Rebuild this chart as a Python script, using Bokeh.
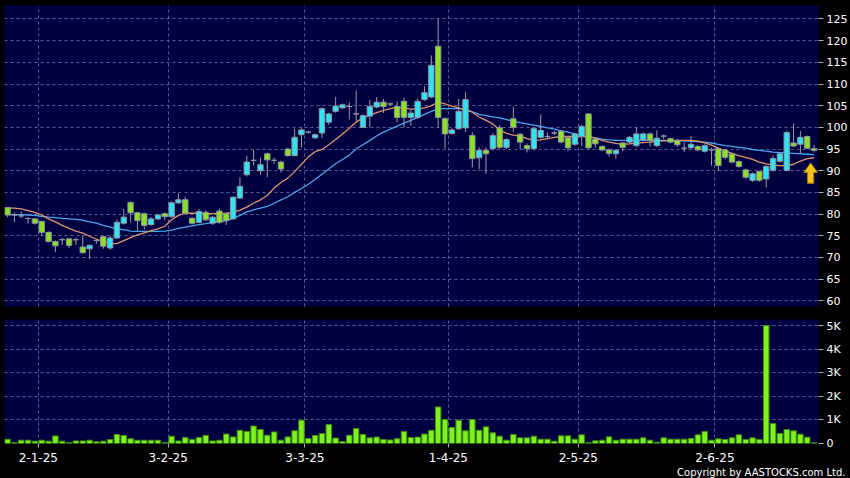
from bokeh.plotting import figure
from bokeh.layouts import column
from bokeh.models import ColumnDataSource, FixedTicker, Range1d, Title
from bokeh.embed import file_html
from bokeh.resources import INLINE

# trading-day index (0 = 2 Jan 2025)
day_index = list(range(-4, 115))

opens = [81.5, 79.8, 79.6, 79.0, 78.9, 78.3, 75.8, 73.7, 74.1, 74.3, 74.1, 72.4, 72.0, 73.9, 74.8, 72.2, 74.5, 77.9,
         82.7, 80.3, 80.1, 77.6, 78.9, 80.1, 79.4, 82.6, 83.3, 79.0, 78.1, 80.4, 77.9, 80.7, 80.1, 78.9, 83.7, 89.1,
         92.4, 90.0, 93.9, 92.4, 92.0, 95.0, 93.5, 98.3, 98.9, 97.6, 98.7, 101.2, 103.7, 104.5, 104.8, 103.1, 100.0,
         102.6, 104.7, 105.8, 105.4, 104.8, 106.0, 102.3, 102.3, 106.4, 107.0, 118.7, 102.0, 98.6, 99.7, 99.9, 98.1,
         93.0, 94.7, 95.1, 99.9, 95.4, 102.0, 98.4, 95.8, 95.1, 97.7, 97.9, 98.7, 99.1, 97.6, 96.1, 97.9, 103.1, 97.3,
         95.6, 94.8, 93.9, 96.4, 96.6, 95.8, 97.1, 98.5, 95.8, 98.0, 97.4, 97.0, 95.2, 95.3, 95.6, 94.5, 94.8, 95.1,
         94.8, 93.9, 92.1, 90.2, 87.8, 89.8, 88.1, 90.1, 92.2, 90.1, 96.4, 96.1, 97.9, 95.1]
highs = [81.6, 80.4, 80.6, 79.2, 79.1, 78.5, 76.0, 73.9, 74.5, 74.5, 74.5, 75.0, 73.0, 74.3, 75.0, 75.0, 78.8, 81.2,
         82.9, 80.5, 80.3, 79.3, 80.1, 80.4, 82.9, 84.8, 84.0, 79.3, 81.2, 80.9, 79.6, 81.3, 80.4, 84.1, 88.5, 93.5,
         94.8, 93.0, 94.2, 93.0, 92.3, 95.3, 99.7, 100.0, 99.2, 98.6, 104.6, 103.4, 107.0, 105.5, 105.8, 108.5, 103.0,
         106.3, 107.0, 106.6, 105.7, 106.0, 106.8, 104.0, 106.6, 109.5, 116.6, 125.0, 102.3, 99.8, 106.6, 108.1, 98.9,
         95.4, 95.4, 98.7, 100.5, 97.5, 104.8, 98.7, 96.3, 100.0, 103.0, 98.8, 99.2, 99.4, 97.9, 98.8, 100.6, 103.3,
         97.7, 95.8, 95.1, 95.0, 96.6, 98.0, 100.0, 98.8, 98.8, 99.3, 98.4, 97.6, 97.3, 96.6, 98.0, 95.9, 96.1, 95.2,
         95.3, 95.1, 94.2, 92.4, 90.5, 89.6, 90.0, 91.3, 93.5, 94.2, 99.3, 100.9, 99.2, 98.1, 96.0]
lows = [79.3, 78.1, 79.0, 77.8, 77.6, 75.0, 73.5, 71.2, 72.9, 72.2, 72.9, 71.0, 69.7, 73.2, 72.0, 71.8, 74.3, 77.6,
        78.1, 76.2, 76.5, 77.3, 78.6, 78.6, 79.2, 82.3, 80.0, 77.6, 77.9, 78.4, 77.5, 77.8, 77.5, 78.7, 83.5, 88.7,
        91.2, 89.0, 88.5, 91.6, 89.6, 93.2, 93.3, 95.4, 98.6, 97.3, 97.5, 100.6, 103.4, 104.2, 101.8, 101.4, 99.8,
        100.0, 104.4, 103.3, 105.0, 101.2, 100.0, 100.4, 102.0, 106.1, 106.8, 100.0, 95.1, 98.3, 99.4, 98.9, 90.8,
        90.4, 89.3, 94.7, 95.0, 95.0, 98.9, 94.9, 94.2, 94.8, 97.4, 97.2, 98.2, 96.3, 94.5, 95.8, 95.6, 95.0, 95.3,
        94.5, 93.3, 92.8, 94.5, 96.3, 95.4, 96.8, 95.6, 95.5, 97.3, 96.3, 95.5, 94.3, 95.0, 94.5, 94.2, 91.2, 89.9,
        92.6, 91.7, 90.7, 88.2, 87.4, 87.5, 86.2, 89.8, 91.9, 89.8, 95.4, 93.9, 95.0, 94.2]
closes = [79.8, 79.8, 79.6, 79.0, 77.9, 75.8, 73.7, 72.7, 74.1, 72.8, 74.1, 71.1, 72.8, 73.9, 72.6, 74.5, 78.1, 79.3,
          80.3, 78.5, 77.4, 78.9, 79.8, 79.4, 82.6, 83.3, 80.2, 77.9, 80.6, 78.7, 79.3, 78.1, 78.5, 83.9, 86.4, 92.0,
          92.4, 91.4, 92.5, 92.4, 90.4, 93.5, 97.7, 99.4, 98.9, 98.3, 104.3, 103.1, 104.9, 105.2, 104.8, 103.1, 102.7,
          104.8, 105.8, 104.8, 105.4, 102.3, 102.3, 103.3, 106.0, 108.0, 114.3, 102.3, 98.5, 99.4, 103.7, 106.4, 92.8,
          94.7, 93.9, 98.1, 95.4, 97.2, 100.0, 96.6, 95.1, 99.7, 99.3, 97.9, 98.7, 96.6, 95.3, 98.5, 100.2, 95.3, 96.2,
          94.8, 94.0, 94.7, 95.4, 97.7, 98.5, 98.5, 97.0, 97.5, 98.0, 96.6, 96.0, 95.2, 96.1, 94.8, 95.8, 94.8, 91.2,
          93.1, 92.0, 91.0, 88.5, 89.3, 87.8, 91.0, 92.8, 93.9, 98.8, 95.7, 97.7, 95.2, 94.7]
volumes = [180, 40, 140, 140, 100, 140, 100, 320, 100, 40, 110, 110, 140, 70, 100, 170, 380, 340, 200, 140, 140,
           140, 140, 40, 310, 110, 250, 170, 250, 340, 110, 140, 400, 280, 560, 510, 740, 590, 350, 490, 140, 280,
           540, 985, 210, 340, 420, 800, 230, 80, 350, 630, 380, 240, 270, 170, 150, 200, 510, 250, 270, 400, 560,
           1548, 1014, 676, 986, 535, 1014, 563, 704, 450, 310, 141, 380, 239, 239, 310, 183, 183, 97, 324, 324, 183,
           366, 42, 112, 141, 282, 141, 183, 183, 183, 239, 141, 56, 239, 183, 183, 183, 211, 366, 505, 141, 197, 169,
           239, 366, 169, 239, 169, 4998, 845, 422, 591, 535, 393, 266, 30]
ma_short = [81.4, 81.4, 81.2, 80.8, 80.4, 79.8, 78.9, 78.2, 77.4, 76.7, 76.1, 75.6, 74.9, 74.2, 73.8, 73.2, 73.2,
            73.9, 74.6, 75.2, 75.7, 76.2, 76.6, 77.2, 78.7, 79.7, 80.2, 80.2, 80.2, 80.1, 80.1, 80.1, 80.2, 80.4, 80.9,
            81.6, 82.5, 83.3, 84.3, 86.0, 87.3, 88.3, 89.8, 91.5, 93.2, 94.4, 94.9, 96.0, 97.2, 98.5, 99.8, 101.2,
            102.2, 102.8, 103.4, 103.9, 104.3, 104.6, 104.5, 104.2, 104.2, 104.5, 105.0, 105.8, 105.4, 104.9, 104.5,
            104.0, 103.5, 102.4, 101.6, 100.8, 99.4, 98.6, 98.2, 98.0, 97.4, 97.0, 97.1, 97.4, 97.7, 97.9, 97.9, 97.9,
            97.9, 97.9, 97.5, 97.0, 96.6, 96.3, 96.1, 96.2, 96.4, 96.5, 96.6, 96.8, 96.9, 96.9, 97.0, 97.0, 97.0, 96.8,
            96.4, 95.9, 95.2, 94.6, 94.0, 93.5, 93.1, 92.6, 92.0, 91.6, 91.3, 91.2, 91.2, 91.5, 92.2, 92.8, 93.0]
ma_long = [79.9, 79.9, 79.9, 79.8, 79.7, 79.5, 79.3, 79.2, 79.0, 78.9, 78.8, 78.6, 78.2, 77.9, 77.4, 77.0, 76.6,
           76.4, 76.1, 76.0, 76.0, 76.0, 76.0, 76.1, 76.3, 76.7, 77.0, 77.3, 77.6, 77.8, 78.1, 78.3, 78.5, 79.0, 79.7,
           80.5, 81.0, 81.4, 81.8, 82.5, 83.3, 84.0, 85.0, 85.9, 86.9, 88.0, 89.2, 90.4, 91.6, 92.6, 93.6, 95.0, 96.0,
           97.0, 98.0, 98.9, 99.6, 100.3, 101.0, 101.6, 102.3, 103.0, 103.7, 104.3, 104.3, 104.3, 104.3, 104.2, 103.6,
           103.0, 102.7, 102.4, 102.2, 101.8, 101.4, 101.1, 100.8, 100.5, 100.2, 99.9, 99.6, 99.2, 98.9, 98.5, 98.1,
           97.8, 97.6, 97.3, 97.1, 97.0, 97.0, 97.0, 97.0, 97.0, 97.0, 97.0, 97.0, 97.0, 96.9, 96.9, 96.8, 96.7, 96.6,
           96.4, 96.1, 95.8, 95.6, 95.4, 95.2, 94.9, 94.7, 94.5, 94.3, 94.2, 94.1, 94.0, 93.9, 93.8, 93.7]

# first trading day of each month (as trading-day index) and its label
date_ticks = [0, 19, 39, 60, 79, 99]
date_labels = ["2-1-25", "3-2-25", "3-3-25", "1-4-25", "2-5-25", "2-6-25"]
price_ticks = [60, 65, 70, 75, 80, 85, 90, 95, 100, 105, 110, 115, 120, 125]
vol_ticks = [0, 1000, 2000, 3000, 4000, 5000]
vol_labels = ["0", "1K", "2K", "3K", "4K", "5K"]

FONT = "DejaVu Sans"
NAVY = "#000040"
GRID = "#5c5c92"
UP, DOWN, FLAT = "#2fe3f1", "#8ce21e", "#a0a0aa"

colors = [UP if c > o else (DOWN if c < o else FLAT) for o, c in zip(opens, closes)]
src = ColumnDataSource(dict(
    x=day_index, o=opens, h=highs, l=lows, c=closes,
    top=[max(o, c) for o, c in zip(opens, closes)],
    bottom=[min(o, c) for o, c in zip(opens, closes)],
    color=colors, vol=volumes, mas=ma_short, mal=ma_long))

# month boundaries sit half a trading day after the tick's day
boundary = [t + 0.5 for t in date_ticks]
xr = Range1d(-4.45, 114.65)

def style(fig):
    fig.background_fill_color = NAVY
    fig.border_fill_color = "black"
    fig.outline_line_color = None
    for g in (fig.xgrid, fig.ygrid):
        g.grid_line_color = GRID
        g.grid_line_dash = "3 3"
        g.grid_line_width = 1
    fig.yaxis.axis_line_color = None
    fig.yaxis.major_tick_line_color = "#b0b0b0"
    fig.yaxis.major_tick_out = 5
    fig.yaxis.major_tick_in = 0
    fig.yaxis.minor_tick_line_color = None
    fig.yaxis.major_label_standoff = 3
    fig.yaxis.major_label_text_color = "white"
    fig.yaxis.major_label_text_font = FONT
    fig.yaxis.major_label_text_font_size = "11px"

p = figure(width=850, height=319, x_range=xr, y_range=Range1d(58.7, 128.1),
           x_axis_location=None, y_axis_location="right", output_backend="svg", toolbar_location=None,
           min_border_left=4, min_border_right=32, min_border_top=5, min_border_bottom=13)
style(p)
p.xgrid.ticker = FixedTicker(ticks=boundary)
p.yaxis.ticker = FixedTicker(ticks=price_ticks)

p.line("x", "mal", source=src, line_color="#4aa6ea", line_width=1.3)
p.line("x", "mas", source=src, line_color="#e0946c", line_width=1.3)
p.segment(x0="x", y0="l", x1="x", y1="h", source=src, line_color="#9c9ca4", line_width=1)
p.vbar(x="x", width=0.78, top="top", bottom="bottom", fill_color="color", line_color="#8e96a4",
       line_width=1, source=src)

# yellow marker arrow under the latest bar
ax = day_index[-1] - 0.5
tip = lows[-1] - 2.4
p.patch([ax - 1.0, ax, ax + 1.0, ax + 0.45, ax + 0.45, ax - 0.45, ax - 0.45],
        [tip - 2.2, tip, tip - 2.2, tip - 2.2, tip - 4.7, tip - 4.7, tip - 2.2],
        fill_color="#f6c21a", line_color="#a87a00", line_width=1)

v = figure(width=850, height=159, x_range=xr, y_range=Range1d(0, 5250),
           y_axis_location="right", output_backend="svg", toolbar_location=None,
           min_border_left=4, min_border_right=32, min_border_top=0, min_border_bottom=35)
style(v)
v.yaxis.ticker = FixedTicker(ticks=vol_ticks)
v.yaxis.major_label_overrides = dict(zip(vol_ticks, vol_labels))
v.xaxis.ticker = FixedTicker(ticks=boundary)
v.xaxis.major_label_overrides = dict(zip(boundary, date_labels))
v.xaxis.axis_line_color = None
v.xaxis.major_tick_line_color = "#b0b0b0"
v.xaxis.major_tick_out = 4
v.xaxis.major_tick_in = 0
v.xaxis.minor_tick_line_color = None
v.xaxis.major_label_standoff = 5
v.xaxis.major_label_text_color = "white"
v.xaxis.major_label_text_font = FONT
v.xaxis.major_label_text_font_size = "12px"

v.vbar(x="x", width=0.8, top="vol", bottom=0, fill_color="#7ff21e", line_color="#3f8f10", source=src)

v.add_layout(Title(text="Copyright by AASTOCKS.com Ltd.", align="right", offset=-27, text_color="white",
                   text_font=FONT, text_font_size="10px", text_font_style="normal", standoff=0), "below")

layout = column(p, v, spacing=0)
layout.styles = {"background-color": "black"}
open("out.html", "w").write(file_html(layout, INLINE))
